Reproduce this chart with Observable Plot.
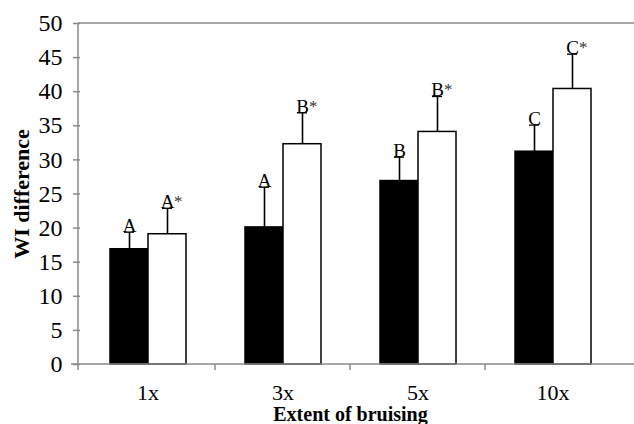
<!DOCTYPE html>
<html><head><meta charset="utf-8">
<script src="https://cdn.jsdelivr.net/npm/d3@7"></script>
<script src="https://cdn.jsdelivr.net/npm/@observablehq/plot@0.6"></script>
<style>
body{margin:0;background:#fff}
#chart svg, #chart svg text{font-family:"Liberation Serif",serif !important;font-variant:normal !important}
g[aria-label="y-axis label"] text{font-size:22px;font-weight:bold;fill:#000}
g[aria-label="fx-axis label"] text{font-size:20px;font-weight:bold;fill:#000}
</style></head><body><div id="chart"></div>
<script>
const categories = ["1x", "3x", "5x", "10x"];
const series = ["Series 1", "Series 2"];
const values1 = [16.9, 20.1, 26.9, 31.2];
const values2 = [19.1, 32.3, 34.1, 40.4];
const errors1 = [2.5, 5.9, 3.5, 3.9];
const errors2 = [3.8, 4.6, 5.2, 5.1];
const letters1 = ["A", "A", "B", "C"];
const letters2 = ["A", "B", "B", "C"];
const stars1 = ["", "", "", ""];
const stars2 = ["*", "*", "*", "*"];
const yTicks = [0, 5, 10, 15, 20, 25, 30, 35, 40, 45, 50];

const data = [];
categories.forEach((c, i) => {
  data.push({cat: c, series: series[0], value: values1[i], err: errors1[i], letter: letters1[i], star: stars1[i]});
  data.push({cat: c, series: series[1], value: values2[i], err: errors2[i], letter: letters2[i], star: stars2[i]});
});
const errTop = d => d.value + d.err;
const gray = "#8a8a8a";

const W = 634, H = 424, mL = 78, mR = 13, mT = 23, mB = 60;

const plot = Plot.plot({
  width: W, height: H,
  marginLeft: mL, marginRight: mR, marginTop: mT, marginBottom: mB,
  style: {fontFamily: "'Liberation Serif',serif", fontSize: "22px", background: "#fff"},
  fx: {domain: categories, padding: 0},
  x: {domain: series, paddingInner: 0, paddingOuter: 0.74, axis: null},
  y: {domain: [0, 50]},
  color: {domain: series, range: ["#000", "#fff"]},
  marks: [
    Plot.barY(data, {fx: "cat", x: "series", y: "value", fill: "series", stroke: "#000", strokeWidth: 1.5}),
    Plot.ruleX(data, {fx: "cat", x: "series", y1: "value", y2: errTop, stroke: "#000", strokeWidth: 1.6}),
    Plot.tickY(data, {fx: "cat", x: "series", y: errTop, stroke: "#000", strokeWidth: 1.3, insetLeft: 14, insetRight: 14}),
    Plot.text(data, {fx: "cat", x: "series", y: errTop, text: "letter", lineAnchor: "bottom", fontSize: 19, fill: "#000"}),
    Plot.text(data.filter(d => d.star), {fx: "cat", x: "series", y: errTop, text: "star", lineAnchor: "bottom", textAnchor: "start", dx: 6.5, dy: -1, fontSize: 17, fill: "#333"}),
    Plot.axisY({ticks: yTicks, tickSize: 7, tickPadding: 11, stroke: gray, strokeWidth: 1.5, fontSize: 24, fill: "#000",
      label: "WI difference", labelAnchor: "center", labelOffset: 67, labelArrow: "none"}),
    Plot.axisFx({anchor: "bottom", tickSize: 0, tickPadding: 20, fontSize: 22, fill: "#000",
      label: "Extent of bruising", labelAnchor: "center", labelOffset: 56, labelArrow: "none"})
  ]
});

// gray axis lines drawn from the plot's own scales
const ys = plot.scale("y"), fxs = plot.scale("fx");
const svg = d3.select(plot.tagName === "svg" ? plot : plot.querySelector("svg"));
const g = svg.append("g").attr("stroke", gray).attr("stroke-width", 1.5);
const y0 = ys.apply(0), y50 = ys.apply(50);
g.append("line").attr("x1", mL).attr("x2", W).attr("y1", y50).attr("y2", y50);
g.append("line").attr("x1", mL - 7).attr("x2", W).attr("y1", y0).attr("y2", y0);
g.append("line").attr("x1", mL).attr("x2", mL).attr("y1", y50).attr("y2", y0 + 6);
categories.slice(1).forEach(c => {
  const xb = fxs.apply(c);
  g.append("line").attr("x1", xb).attr("x2", xb).attr("y1", y0).attr("y2", y0 + 6);
});

document.getElementById("chart").appendChild(plot);
</script></body></html>
